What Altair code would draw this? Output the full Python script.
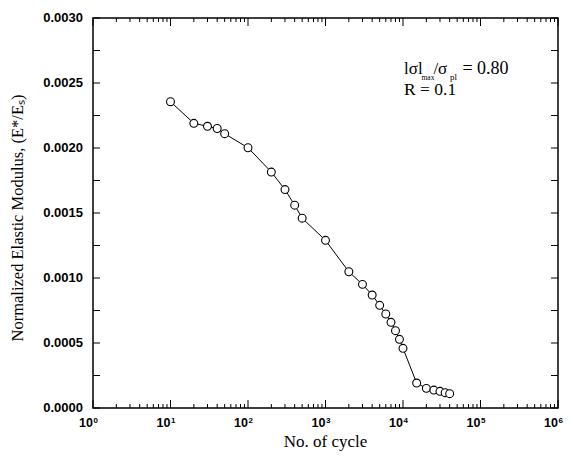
import altair as alt
import pandas as pd

# data
cycles = [10, 20, 30, 40, 50, 100, 200, 300, 400, 500, 1000, 2000, 3000, 4000,
          5000, 6000, 7000, 8000, 9000, 10000, 15000, 20000, 25000, 30000, 35000, 40000]
modulus = [0.002356, 0.00219, 0.002167, 0.00215, 0.00211, 0.002002, 0.001815, 0.00168,
           0.00156, 0.00146, 0.00129, 0.001048, 0.000951, 0.000869, 0.00079, 0.000723,
           0.000659, 0.000595, 0.000528, 0.000459, 0.000192, 0.000151, 0.000138,
           0.000128, 0.000118, 0.00011]

x_major = [1, 10, 100, 1000, 10000, 100000, 1000000]
x_exponents = ["0", "1", "2", "3", "4", "5", "6"]
x_minor = [k * 10 ** d for d in range(6) for k in range(2, 10)]
y_major = [0.0, 0.0005, 0.001, 0.0015, 0.002, 0.0025, 0.003]
y_minor = [0.00025, 0.00075, 0.00125, 0.00175, 0.00225, 0.00275]

x_title = "No. of cycle"
y_title = "Normalized Elastic Modulus, (E*/Eₛ)"

W, H = 465, 390
xscale = alt.Scale(type="log", domain=[1, 1e6], nice=False)
yscale = alt.Scale(domain=[0, 0.003], nice=False, zero=False)

df = pd.DataFrame({"cycle": cycles, "mod": modulus})
xmaj = pd.DataFrame({"v": x_major, "e": x_exponents})
xmin = pd.DataFrame({"v": x_minor})
ymaj = pd.DataFrame({"v": y_major})
ymin = pd.DataFrame({"v": y_minor})
one = pd.DataFrame({"k": [0]})

X = lambda f: alt.X(f, scale=xscale, axis=None)
Y = lambda f: alt.Y(f, scale=yscale, axis=None)

line = alt.Chart(df).mark_line(color="black", strokeWidth=1).encode(
    x=X("cycle:Q"), y=Y("mod:Q"))
pts = alt.Chart(df).mark_point(shape="circle", size=62, fill="white", stroke="black",
                               strokeWidth=1.1, opacity=1, fillOpacity=1).encode(
    x=X("cycle:Q"), y=Y("mod:Q"))

def xticks(d, length):
    bot = alt.Chart(d).mark_rule(color="black", strokeWidth=1).encode(
        x=X("v:Q"), y=alt.value(H), y2=alt.value(H - length))
    top = alt.Chart(d).mark_rule(color="black", strokeWidth=1).encode(
        x=X("v:Q"), y=alt.value(0), y2=alt.value(length))
    return [bot, top]

def yticks(d, length):
    left = alt.Chart(d).mark_rule(color="black", strokeWidth=1).encode(
        y=Y("v:Q"), x=alt.value(0), x2=alt.value(length))
    right = alt.Chart(d).mark_rule(color="black", strokeWidth=1).encode(
        y=Y("v:Q"), x=alt.value(W), x2=alt.value(W - length))
    return [left, right]

xlab10 = alt.Chart(xmaj).mark_text(
    align="right", baseline="alphabetic", font="Liberation Sans", fontWeight="bold",
    fontSize=12.5, color="black", dy=19, text="10",
).encode(x=X("v:Q"), y=alt.value(H))
xlabexp = alt.Chart(xmaj).mark_text(
    align="left", baseline="alphabetic", font="Liberation Sans", fontWeight="bold",
    fontSize=8, color="black", dy=14.5, dx=0.5,
).encode(x=X("v:Q"), y=alt.value(H), text="e:N")
ylab = alt.Chart(ymaj).mark_text(
    align="right", baseline="middle", font="Liberation Sans", fontWeight="bold",
    fontSize=13, color="black", dx=-10,
).encode(y=Y("v:Q"), x=alt.value(0), text=alt.Text("v:Q", format=".4f"))

xtitle = alt.Chart(one).mark_text(
    align="center", baseline="alphabetic", font="Liberation Serif", fontSize=17,
    color="black", dy=39, text=x_title,
).encode(x=alt.value(W / 2), y=alt.value(H))
ytitle = alt.Chart(one).mark_text(
    align="center", baseline="alphabetic", font="Liberation Serif", fontSize=16.5,
    color="black", angle=270, text=y_title,
).encode(x=alt.value(-70), y=alt.value(200))

frame = alt.Chart(one).mark_rect(fill=None, stroke="black", strokeWidth=1.5).encode(
    x=alt.value(0), x2=alt.value(W), y=alt.value(0), y2=alt.value(H))

ann_x = 10000
ann_y = 0.002567

def ann(text, size, dx=0, dy=0):
    return alt.Chart(one).mark_text(
        align="left", baseline="alphabetic", font="Liberation Serif",
        fontSize=size, color="black", dx=dx, dy=dy, text=text,
    ).encode(x=alt.datum(ann_x, scale=xscale, axis=None),
             y=alt.datum(ann_y, scale=yscale, axis=None))

texts = [
    ann("lσl", 17, 1, 0),
    ann("max", 7.5, 18.5, 5.5),
    ann("/σ", 17, 30.4, 0),
    ann("pl", 9, 47, 5.5),
    ann("= 0.80", 18, 59.4, 0),
    ann("R = 0.1", 17.5, 1, 20.5),
]

chart = alt.layer(
    *xticks(xmaj, 8), *xticks(xmin, 4), *yticks(ymaj, 7), *yticks(ymin, 7),
    line, pts, frame, xlab10, xlabexp, ylab, xtitle, ytitle, *texts,
).properties(
    width=W, height=H, autosize="none", background="white",
    padding={"left": 85, "top": 10, "right": 7, "bottom": 43},
).configure_view(stroke=None)

chart.save("out.html", embed_options={"renderer": "svg", "actions": False})
